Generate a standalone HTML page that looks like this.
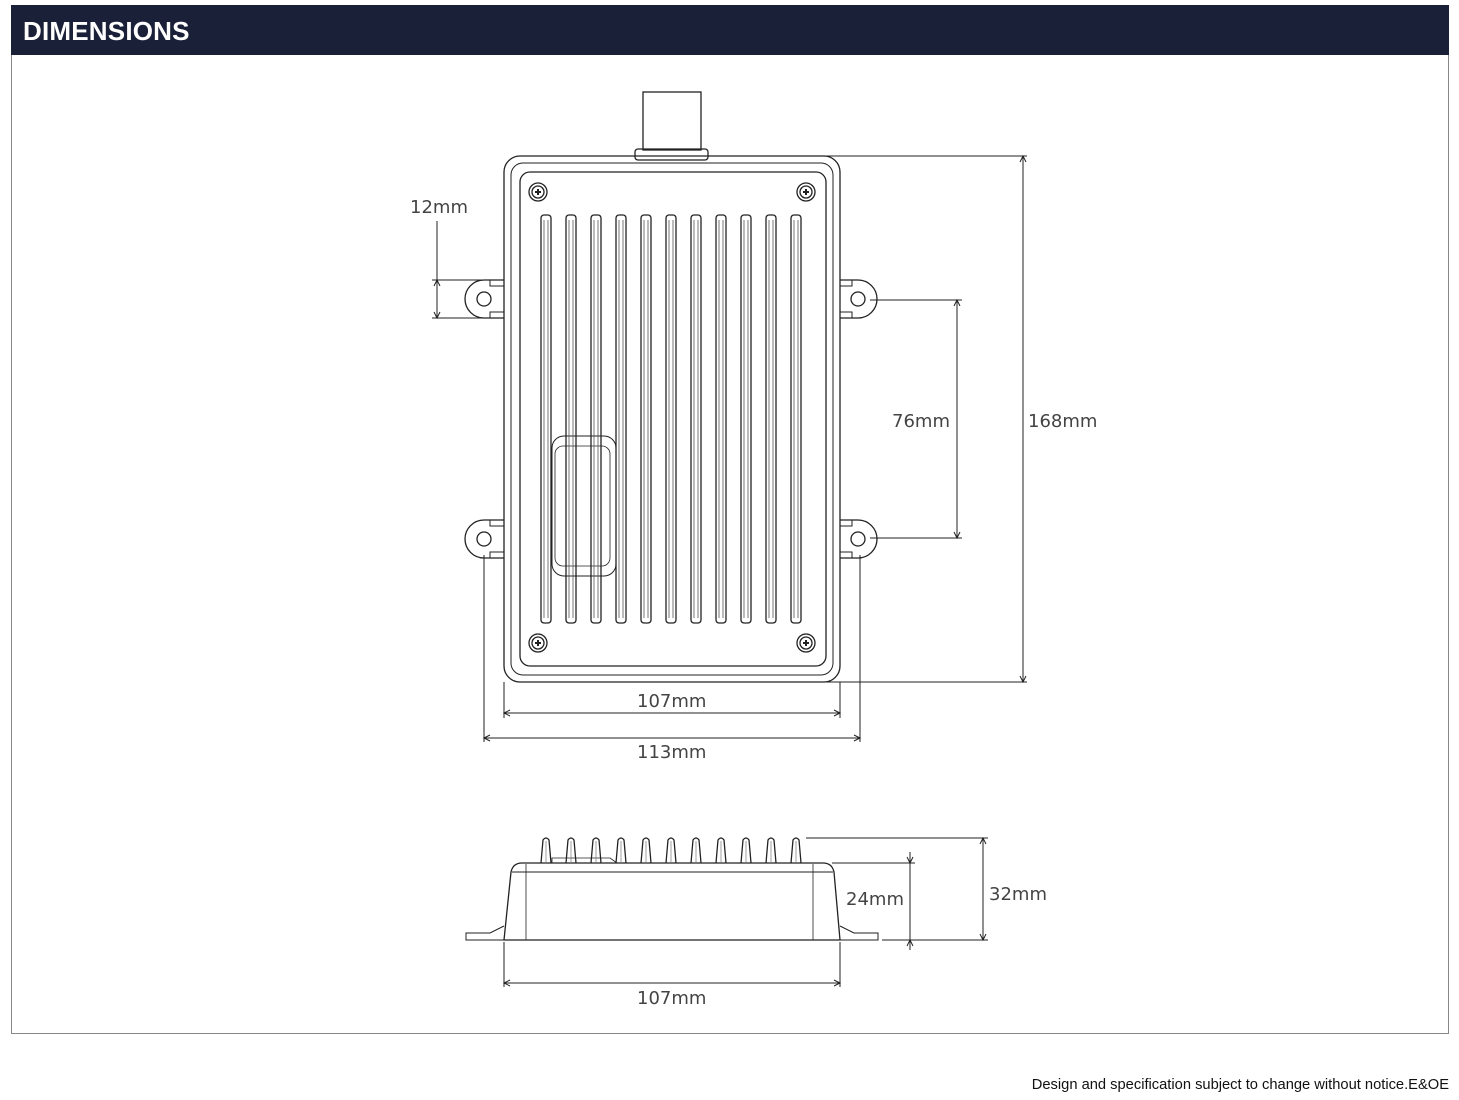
<!DOCTYPE html>
<html><head><meta charset="utf-8"><style>
html,body{margin:0;padding:0;background:#fff;}
body{width:1459px;height:1100px;position:relative;overflow:hidden;font-family:"Liberation Sans",sans-serif;}
.hdr{position:absolute;left:11px;top:5px;width:1438px;height:50px;background:#1a2038;color:#fff;font-weight:bold;font-size:26px;line-height:52px;padding-left:12px;box-sizing:border-box;letter-spacing:0.2px;}
.frame{position:absolute;left:11px;top:5px;width:1438px;height:1029px;border:1px solid #888;box-sizing:border-box;}
.foot{position:absolute;right:10px;top:1077px;font-size:14.7px;color:#111;}
svg{position:absolute;left:0;top:0;}
svg text{font-family:"DejaVu Sans","Liberation Sans",sans-serif;font-size:18px;fill:#444;}
</style></head><body>
<div class="frame"></div>
<div class="hdr">DIMENSIONS</div>
<svg width="1459" height="1100" viewBox="0 0 1459 1100">
<defs>
<g id="fin">
<rect x="-5" y="215" width="10" height="408" rx="3" fill="none" stroke="#222" stroke-width="1.3"/>
<line x1="-2" y1="220" x2="-2" y2="618" stroke="#555" stroke-width="0.8"/>
<line x1="2" y1="220" x2="2" y2="618" stroke="#555" stroke-width="0.8"/>
</g>
<g id="screw">
<circle r="9" fill="none" stroke="#222" stroke-width="1.3"/>
<circle r="6" fill="none" stroke="#222" stroke-width="1.3"/>
<path d="M-3,-1h2v-2h2v2h2v2h-2v2h-2v-2h-2z" fill="#222"/>
</g>
<g id="sfin">
<path d="M-5,863 L-3,840 Q0,836 3,840 L5,863" fill="none" stroke="#222" stroke-width="1.3"/>
<line x1="0" y1="841" x2="0" y2="863" stroke="#777" stroke-width="0.7"/>
</g>
</defs>
<g fill="none" stroke="#222" stroke-width="1.3">
<rect x="643" y="92" width="58" height="58"/>
<rect x="635" y="149" width="73" height="11" rx="3"/>
<rect x="504" y="156" width="336" height="526" rx="16"/>
<rect x="511" y="163" width="322" height="512" rx="12" stroke-width="1"/>
<rect x="520" y="172" width="306" height="494" rx="10"/>
<path d="M504,280 H484 A18,18 0 0 0 484,318 H504"/>
<path d="M504,520 H484 A18,18 0 0 0 484,558 H504"/>
<circle cx="484" cy="299" r="7"/><circle cx="484" cy="539" r="7"/>
<path d="M490,280v6h14M490,318v-6h14M490,520v6h14M490,558v-6h14" stroke-width="1"/>
<path d="M840,280 H858 A18,18 0 0 1 858,318 H840"/>
<path d="M840,520 H858 A18,18 0 0 1 858,558 H840"/>
<circle cx="858" cy="299" r="7"/><circle cx="858" cy="539" r="7"/>
<path d="M852,280v6h-12M852,318v-6h-12M852,520v6h-12M852,558v-6h-12" stroke-width="1"/>
<rect x="552" y="436" width="64" height="140" rx="12" stroke-width="1"/>
<rect x="555" y="446" width="55" height="120" rx="8" stroke-width="0.8"/>
</g>
<use href="#fin" x="546"/><use href="#fin" x="571"/><use href="#fin" x="596"/><use href="#fin" x="621"/><use href="#fin" x="646"/><use href="#fin" x="671"/><use href="#fin" x="696"/><use href="#fin" x="721"/><use href="#fin" x="746"/><use href="#fin" x="771"/><use href="#fin" x="796"/>
<use href="#screw" x="538" y="192"/><use href="#screw" x="806" y="192"/><use href="#screw" x="538" y="643"/><use href="#screw" x="806" y="643"/>
<g stroke="#222" stroke-width="1" fill="none">
<line x1="432" y1="280" x2="504" y2="280"/><line x1="432" y1="318" x2="504" y2="318"/>
<line x1="437" y1="221" x2="437" y2="318"/>
<path d="M434,286 L437,280 L440,286 M434,312 L437,318 L440,312"/>
<line x1="870" y1="300" x2="962" y2="300"/><line x1="870" y1="538" x2="962" y2="538"/>
<line x1="957" y1="300" x2="957" y2="538"/>
<path d="M954,306 L957,300 L960,306 M954,532 L957,538 L960,532"/>
<line x1="815" y1="156" x2="1027" y2="156"/><line x1="815" y1="682" x2="1027" y2="682"/>
<line x1="1023" y1="156" x2="1023" y2="682"/>
<path d="M1020,162 L1023,156 L1026,162 M1020,676 L1023,682 L1026,676"/>
<line x1="504" y1="682" x2="504" y2="718"/><line x1="840" y1="682" x2="840" y2="718"/>
<line x1="504" y1="713" x2="840" y2="713"/>
<path d="M510,710 L504,713 L510,716 M834,710 L840,713 L834,716"/>
<line x1="484" y1="555" x2="484" y2="742"/><line x1="860" y1="555" x2="860" y2="742"/>
<line x1="484" y1="738" x2="860" y2="738"/>
<path d="M490,735 L484,738 L490,741 M854,735 L860,738 L854,741"/>
</g>
<text x="410" y="213">12mm</text>
<text x="892" y="427">76mm</text>
<text x="1028" y="427">168mm</text>
<text x="637" y="707">107mm</text>
<text x="637" y="758">113mm</text>
<g fill="none" stroke="#222" stroke-width="1.3">
<path d="M504,940 L511,872 Q513,863 522,863 L823,863 Q832,863 834,872 L840,940 Z"/>
<line x1="512" y1="872" x2="833" y2="872" stroke-width="1"/>
<line x1="526" y1="864" x2="526" y2="940" stroke-width="0.8"/>
<line x1="813" y1="864" x2="813" y2="940" stroke-width="0.8"/>
<path d="M504,926 L490,933 H466 V940 H504" stroke-width="1"/>
<path d="M840,926 L854,933 H878 V940 H840" stroke-width="1"/>
<path d="M552,863 V858 H610 L617,863" stroke-width="0.8"/>
</g>
<use href="#sfin" x="546"/><use href="#sfin" x="571"/><use href="#sfin" x="596"/><use href="#sfin" x="621"/><use href="#sfin" x="646"/><use href="#sfin" x="671"/><use href="#sfin" x="696"/><use href="#sfin" x="721"/><use href="#sfin" x="746"/><use href="#sfin" x="771"/><use href="#sfin" x="796"/>
<g stroke="#222" stroke-width="1" fill="none">
<line x1="806" y1="838" x2="988" y2="838"/>
<line x1="832" y1="863" x2="915" y2="863"/>
<line x1="882" y1="940" x2="988" y2="940"/>
<line x1="910" y1="852" x2="910" y2="950"/>
<path d="M907,857 L910,863 L913,857 M907,946 L910,940 L913,946"/>
<line x1="983" y1="838" x2="983" y2="940"/>
<path d="M980,844 L983,838 L986,844 M980,934 L983,940 L986,934"/>
<line x1="504" y1="942" x2="504" y2="987"/><line x1="840" y1="942" x2="840" y2="987"/>
<line x1="504" y1="983" x2="840" y2="983"/>
<path d="M510,980 L504,983 L510,986 M834,980 L840,983 L834,986"/>
</g>
<text x="846" y="905">24mm</text>
<text x="989" y="900">32mm</text>
<text x="637" y="1004">107mm</text>
</svg>
<div class="foot">Design and specification subject to change without notice.E&amp;OE</div>
</body></html>
